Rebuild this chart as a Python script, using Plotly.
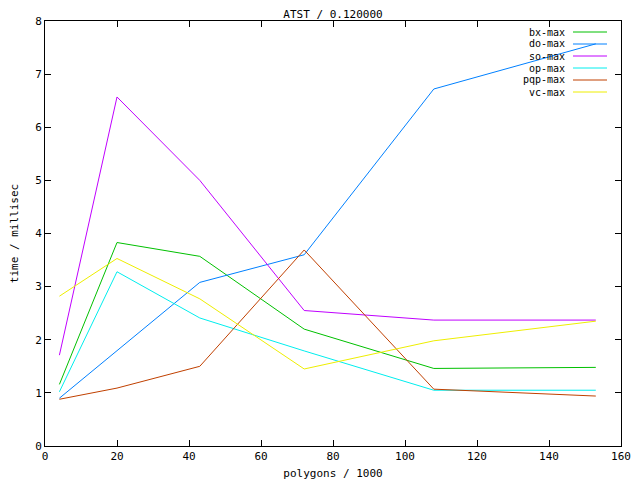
import plotly.graph_objects as go

polygons = [4, 20, 43, 72, 108, 153]
bx_max = [1.16, 3.83, 3.57, 2.20, 1.46, 1.48]
do_max = [0.90, 1.80, 3.08, 3.60, 6.72, 7.57]
so_max = [1.71, 6.57, 5.00, 2.55, 2.37, 2.37]
op_max = [1.02, 3.28, 2.41, 1.79, 1.05, 1.05]
pqp_max = [0.88, 1.09, 1.50, 3.69, 1.07, 0.94]
vc_max = [2.82, 3.53, 2.77, 1.45, 1.98, 2.35]

series_names = ["bx-max", "do-max", "so-max", "op-max", "pqp-max", "vc-max"]
series_values = [bx_max, do_max, so_max, op_max, pqp_max, vc_max]
colors = ["#00c000", "#0080ff", "#c000ff", "#00eeee", "#c04000", "#eeee00"]

FONT = "DejaVu Sans Mono"
FS = 11
LFS = 10

fig = go.Figure()
for name, vals, col in zip(series_names, series_values, colors):
    fig.add_trace(go.Scatter(x=polygons, y=vals, mode="lines", name=name,
                             line=dict(color=col, width=1), showlegend=False))

# page body has an 8px margin: compensate so the plot lands where the reference has it
OFF = 8
W, H = 640 - OFF, 480 - OFF
L, T = 45 - OFF, 21 - OFF
R = W - (621 - OFF)
B = H - (446 - OFF)
pw, ph = W - L - R, H - T - B
def px_x(p):  # window pixel -> paper fraction
    return (p - OFF - L) / pw
def px_y(p):
    return (H - B - (p - OFF)) / ph

# custom gnuplot-style legend (text right-aligned, sample line to its right)
for i, (name, col) in enumerate(zip(series_names, colors)):
    ypix = 32 + 12 * i
    fig.add_annotation(xref="paper", yref="paper", x=px_x(566), y=px_y(ypix),
                       text=name, showarrow=False, xanchor="right", yanchor="middle",
                       borderpad=0, font=dict(family=FONT, size=LFS, color="black"))
    fig.add_shape(type="line", xref="paper", yref="paper",
                  x0=px_x(573), x1=px_x(607), y0=px_y(ypix), y1=px_y(ypix),
                  line=dict(color=col, width=1))

fig.update_layout(
    width=W, height=H,
    margin=dict(l=L, r=R, t=T, b=B, autoexpand=False),
    paper_bgcolor="white", plot_bgcolor="white",
    font=dict(family=FONT, size=FS, color="black"),
    title=dict(text="ATST / 0.120000", x=(333 - OFF) / W, xanchor="center",
               y=1 - (14 - OFF) / H, yanchor="middle", font=dict(family=FONT, size=FS)),
)
fig.update_xaxes(range=[0, 160], dtick=20, tick0=0, showgrid=False, zeroline=False,
                 automargin=False,
                 showline=True, linecolor="black", linewidth=1, mirror="allticks",
                 ticks="inside", ticklen=6, tickcolor="black",
                 title=dict(text="polygons / 1000", standoff=8, font=dict(family=FONT, size=FS)))
fig.update_yaxes(range=[0, 8], dtick=1, tick0=0, showgrid=False, zeroline=False,
                 automargin=False,
                 showline=True, linecolor="black", linewidth=1, mirror="allticks",
                 ticks="inside", ticklen=6, tickcolor="black",
                 title=dict(text="time / millisec", standoff=18, font=dict(family=FONT, size=FS)))

fig.write_html("out.html")
